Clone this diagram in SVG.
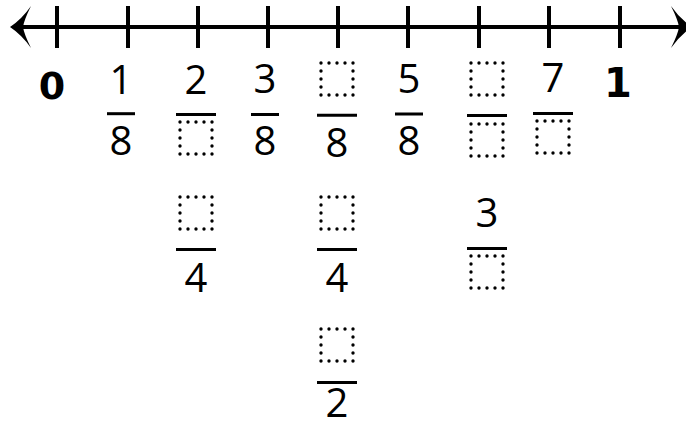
<svg xmlns="http://www.w3.org/2000/svg" width="686" height="429" viewBox="0 0 686 429">
<style>
.num{font-family:"Open Sans","DejaVu Sans",sans-serif;font-size:40px;fill:#000;text-anchor:middle}
.bold{font-family:"DejaVu Sans","Open Sans",sans-serif;font-weight:bold;fill:#000;text-anchor:middle}
.bar{stroke:#000;stroke-width:3}
.box{fill:none;stroke:#000;stroke-width:3.4;stroke-dasharray:0 8;stroke-linecap:round}
.tick{stroke:#000;stroke-width:4}
</style>
<rect width="686" height="429" fill="#fff"/>
<g id="axis">
<line x1="14" y1="27" x2="684" y2="27" stroke="#000" stroke-width="4"/>
<path d="M10,27 Q22,19 31,6 Q24,20 23,27 Q24,34 31,48 Q22,35 10,27 Z" fill="#000"/>
<path d="M692,27 Q680,19 671,6 Q678,20 679,27 Q678,34 671,48 Q680,35 692,27 Z" fill="#000"/>
<line class="tick" x1="57" y1="6" x2="57" y2="48"/>
<line class="tick" x1="128" y1="6" x2="128" y2="48"/>
<line class="tick" x1="198" y1="6" x2="198" y2="48"/>
<line class="tick" x1="268" y1="6" x2="268" y2="48"/>
<line class="tick" x1="338" y1="6" x2="338" y2="48"/>
<line class="tick" x1="408" y1="6" x2="408" y2="48"/>
<line class="tick" x1="479" y1="6" x2="479" y2="48"/>
<line class="tick" x1="549" y1="6" x2="549" y2="48"/>
<line class="tick" x1="620" y1="6" x2="620" y2="48"/>
</g>
<g id="label-0"><text class="bold" x="52" y="99" font-size="38">0</text></g>
<g id="label-1"><text class="bold" x="618" y="97" font-size="40">1</text></g>
<g id="frac-1-8">
<text class="num" x="121" y="94">1</text>
<line class="bar" x1="107" y1="113.7" x2="135" y2="113.7"/>
<text class="num" x="121" y="155">8</text>
</g>
<g id="frac-2-box">
<text class="num" x="196" y="94">2</text>
<line class="bar" x1="176" y1="114.5" x2="216" y2="114.5"/>
<rect class="box" x="180" y="122" width="32" height="32"/>
</g>
<g id="frac-3-8">
<text class="num" x="265" y="93">3</text>
<line class="bar" x1="251" y1="114.5" x2="279" y2="114.5"/>
<text class="num" x="265" y="155">8</text>
</g>
<g id="frac-box-8">
<rect class="box" x="321" y="63" width="32" height="32"/>
<line class="bar" x1="317" y1="115.3" x2="357" y2="115.3"/>
<text class="num" x="337" y="157">8</text>
</g>
<g id="frac-5-8">
<text class="num" x="409" y="93">5</text>
<line class="bar" x1="395" y1="114" x2="423" y2="114"/>
<text class="num" x="409" y="155">8</text>
</g>
<g id="frac-box-box">
<rect class="box" x="471" y="63" width="32" height="32"/>
<line class="bar" x1="467" y1="115.5" x2="507" y2="115.5"/>
<rect class="box" x="471" y="124" width="32" height="32"/>
</g>
<g id="frac-7-box">
<text class="num" x="553" y="92">7</text>
<line class="bar" x1="533" y1="113.5" x2="573" y2="113.5"/>
<rect class="box" x="537" y="121" width="32" height="32"/>
</g>
<g id="frac-box-4-a">
<rect class="box" x="180" y="197" width="32" height="32"/>
<line class="bar" x1="176" y1="249.5" x2="216" y2="249.5"/>
<text class="num" x="196" y="292">4</text>
</g>
<g id="frac-box-4-b">
<rect class="box" x="321" y="197" width="32" height="32"/>
<line class="bar" x1="317" y1="249.5" x2="357" y2="249.5"/>
<text class="num" x="337" y="292">4</text>
</g>
<g id="frac-3-box">
<text class="num" x="487" y="227">3</text>
<line class="bar" x1="467" y1="248.5" x2="507" y2="248.5"/>
<rect class="box" x="471" y="256" width="32" height="32"/>
</g>
<g id="frac-box-2">
<rect class="box" x="321" y="329" width="32" height="32"/>
<line class="bar" x1="317" y1="382.5" x2="357" y2="382.5"/>
<text class="num" x="337" y="417" font-size="39">2</text>
</g>
</svg>
